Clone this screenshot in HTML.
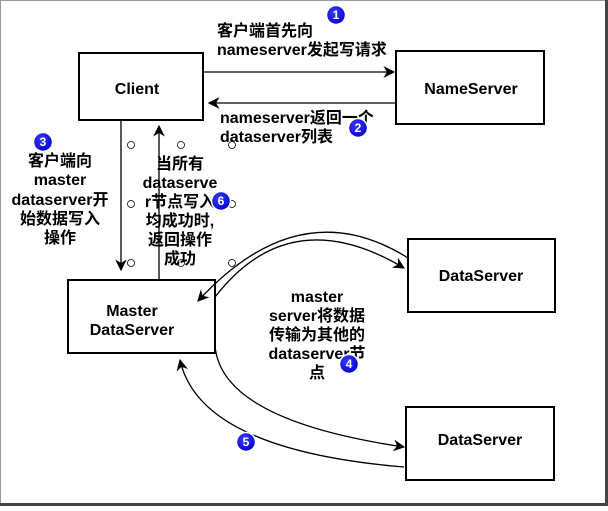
<!DOCTYPE html>
<html><head><meta charset="utf-8"><style>
body{margin:0;width:608px;height:506px;overflow:hidden;background:#fff;font-family:"Liberation Sans","Noto Sans CJK SC",sans-serif}
svg text{font-family:"Liberation Sans","Noto Sans CJK SC",sans-serif;font-size:16px;font-weight:bold;fill:#000}
</style></head><body>
<svg width="608" height="506" viewBox="0 0 608 506">
<defs>
<marker id="a" viewBox="0 0 10 10" refX="9" refY="5" markerWidth="9" markerHeight="9" orient="auto-start-reverse"><path d="M0,0 L10,5 L0,10 L3,5Z" fill="#000"/></marker>
<radialGradient id="g" cx="0.4" cy="0.35" r="0.7"><stop offset="0" stop-color="#3a3aff"/><stop offset="1" stop-color="#0000c8"/></radialGradient>
</defs>
<rect x="0.5" y="0.5" width="605" height="503" fill="#fff" stroke="#999"/>
<rect x="0" y="503" width="608" height="3" fill="#444"/>
<rect x="605" y="0" width="3" height="506" fill="#444"/>
<g fill="#fff" stroke="#000" stroke-width="2">
<rect x="79" y="53" width="124" height="67"/>
<rect x="396" y="51" width="148" height="73"/>
<rect x="408" y="239" width="147" height="73"/>
<rect x="68" y="280" width="147" height="73"/>
<rect x="406" y="407" width="148" height="73"/>
</g>
<g stroke="#000" stroke-width="1.3" fill="none" marker-end="url(#a)">
<line x1="203" y1="72" x2="394" y2="72"/>
<line x1="396" y1="103" x2="209" y2="103"/>
<line x1="121" y1="120" x2="121" y2="270"/>
<line x1="159" y1="280" x2="159" y2="126"/>
<path d="M215 297 Q290 200 404 268"/>
<path d="M408 258 Q300 190 198 301"/>
<path d="M215 345 Q220 420 404 447"/>
<path d="M404 467 Q200 450 180 360"/>
</g>
<g fill="#fff" stroke="#000" stroke-width="0.8">
<circle cx="131" cy="145" r="3.5"/><circle cx="181" cy="145" r="3.5"/><circle cx="232" cy="145" r="3.5"/>
<circle cx="131" cy="204" r="3.5"/><circle cx="232" cy="204" r="3.5"/>
<circle cx="131" cy="263" r="3.5"/><circle cx="181" cy="263" r="3.5"/><circle cx="232" cy="263" r="3.5"/>
</g>
<g text-anchor="middle">
<text x="137" y="94">Client</text>
<text x="471" y="94">NameServer</text>
<text x="481" y="281">DataServer</text>
<text x="480" y="445">DataServer</text>
<text x="132" y="316">Master</text>
<text x="132" y="335">DataServer</text>
<text x="60" y="166">客户端向</text>
<text x="60" y="185">master</text>
<text x="60" y="205">dataserver开</text>
<text x="60" y="224">始数据写入</text>
<text x="60" y="243">操作</text>
<text x="180" y="169">当所有</text>
<text x="180" y="188">dataserve</text>
<text x="180" y="207">r节点写入</text>
<text x="180" y="226">均成功时,</text>
<text x="180" y="245">返回操作</text>
<text x="180" y="264">成功</text>
<text x="317" y="302">master</text>
<text x="317" y="321">server将数据</text>
<text x="317" y="340">传输为其他的</text>
<text x="317" y="359">dataserver节</text>
<text x="317" y="378">点</text>
</g>
<text x="217" y="36">客户端首先向</text>
<text x="217" y="55">nameserver发起写请求</text>
<text x="220" y="123">nameserver返回一个</text>
<text x="220" y="142">dataserver列表</text>
<g>
<g><circle cx="336" cy="15" r="9.5" fill="url(#g)" stroke="#fff" stroke-width="1.5"/><text x="336" y="19" text-anchor="middle" style="fill:#fff;font-size:12px;font-weight:bold">1</text></g>
<g><circle cx="358" cy="128" r="9.5" fill="url(#g)" stroke="#fff" stroke-width="1.5"/><text x="358" y="132" text-anchor="middle" style="fill:#fff;font-size:12px;font-weight:bold">2</text></g>
<g><circle cx="43" cy="142" r="9.5" fill="url(#g)" stroke="#fff" stroke-width="1.5"/><text x="43" y="146" text-anchor="middle" style="fill:#fff;font-size:12px;font-weight:bold">3</text></g>
<g><circle cx="349" cy="364" r="9.5" fill="url(#g)" stroke="#fff" stroke-width="1.5"/><text x="349" y="368" text-anchor="middle" style="fill:#fff;font-size:12px;font-weight:bold">4</text></g>
<g><circle cx="246" cy="442" r="9.5" fill="url(#g)" stroke="#fff" stroke-width="1.5"/><text x="246" y="446" text-anchor="middle" style="fill:#fff;font-size:12px;font-weight:bold">5</text></g>
<g><circle cx="221" cy="201" r="9.5" fill="url(#g)" stroke="#fff" stroke-width="1.5"/><text x="221" y="205" text-anchor="middle" style="fill:#fff;font-size:12px;font-weight:bold">6</text></g>
</g>
</svg>
</body></html>
